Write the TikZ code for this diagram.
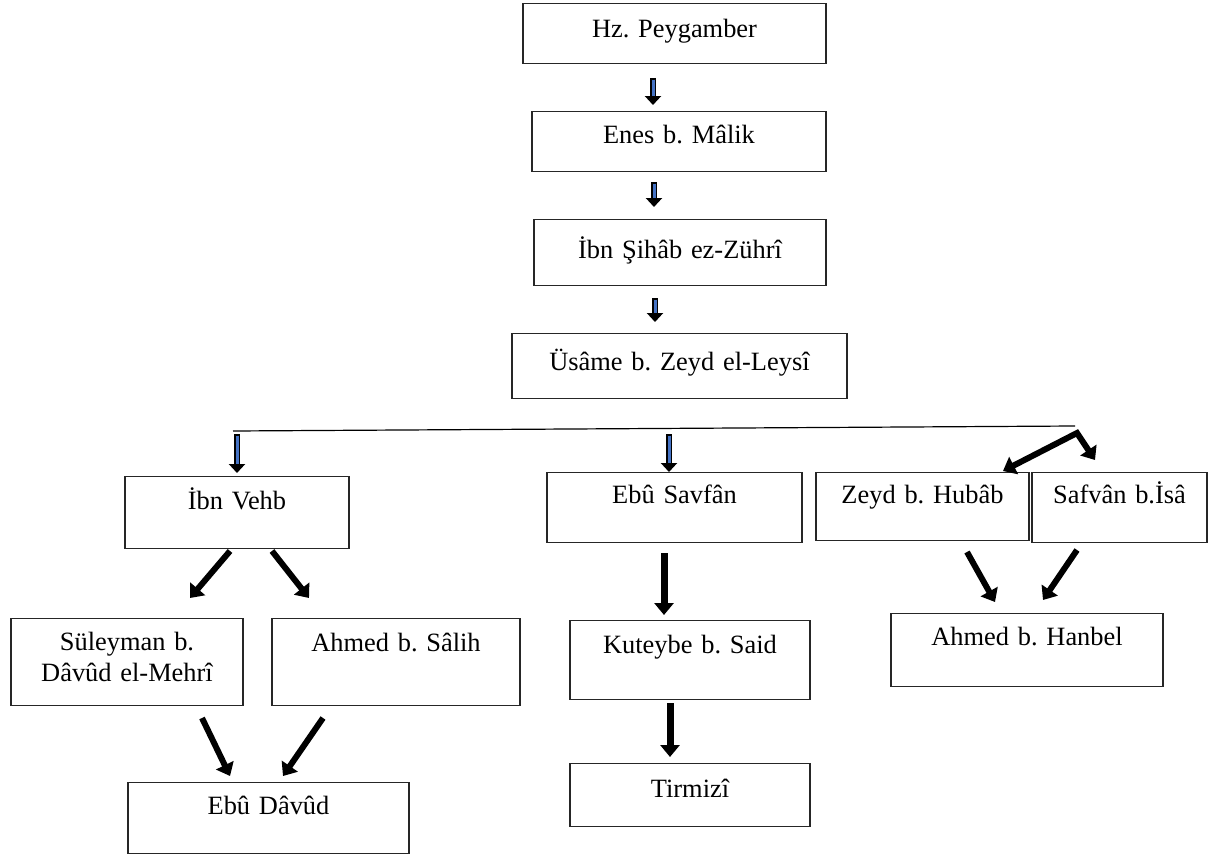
\documentclass[tikz,border=0pt]{standalone}
\usepackage{fontspec}
\setmainfont{Liberation Serif}
\usetikzlibrary{arrows.meta}
\definecolor{arrowblue}{RGB}{68,114,196}
\begin{document}
\frenchspacing
\begin{tikzpicture}[x=1pt,y=-1pt,
  box/.style={draw=black!85, line width=1.3pt, inner sep=0pt, align=center, anchor=north,
    font=\fontsize{26.4}{31}\selectfont\frenchspacing},
  boldarrow/.style={line width=6pt, -{Triangle[width=19pt,length=12pt]}, line join=miter},
  bluearrowout/.style={line width=6.5pt, -{Triangle[width=16pt,length=9pt]}},
  bluearrowin/.style={line width=3pt, draw=arrowblue, shorten <=1.7pt, shorten >=9pt},
]
\useasboundingbox (0,0) rectangle (1210,859);

% boxes
\node[box, text width=303pt, text height=34pt, text depth=26pt] (pey) at (674.5,3) {Hz. Peygamber};
\node[box, text width=294pt, text height=32pt, text depth=28pt] (enes) at (679,111) {Enes b. Mâlik};
\node[box, text width=292pt, text height=39pt, text depth=27pt] (sihab) at (680,219) {İbn Şihâb ez-Zührî};
\node[box, text width=335pt, text height=37pt, text depth=28pt] (usame) at (679.5,333) {Üsâme b. Zeyd el-Leysî};
\node[box, text width=224pt, text height=33pt, text depth=39pt] (vehb) at (237,476) {İbn Vehb};
\node[box, text width=255pt, text height=31pt, text depth=39pt] (savfan) at (674.5,472) {Ebû Savfân};
\node[box, text width=213pt, text height=31pt, text depth=37pt] (zeyd) at (922.5,472) {Zeyd b. Hubâb};
\node[box, text width=175pt, text height=31pt, text depth=39pt] (safvan) at (1119.5,472) {Safvân b.İsâ};
\node[box, text width=232pt, text height=32pt, text depth=55pt] (suley) at (127,618) {Süleyman b.\\Dâvûd el-Mehrî};
\node[box, text width=248pt, text height=33pt, text depth=54pt] (salih) at (396,618) {Ahmed b. Sâlih};
\node[box, text width=240pt, text height=33pt, text depth=46pt] (kuteybe) at (690,620) {Kuteybe b. Said};
\node[box, text width=240pt, text height=34pt, text depth=29pt] (tirmizi) at (690,763) {Tirmizî};
\node[box, text width=281pt, text height=32pt, text depth=39pt] (davud) at (268.5,782) {Ebû Dâvûd};
\node[box, text width=272pt, text height=32pt, text depth=41pt] (hanbel) at (1027,613) {Ahmed b. Hanbel};

% arrow end points
\coordinate (a1s) at (653,78);  \coordinate (a1e) at (653,105);
\coordinate (a2s) at (654,182); \coordinate (a2e) at (654,207);
\coordinate (a3s) at (655,298); \coordinate (a3e) at (655,322);
\coordinate (a4s) at (237,434); \coordinate (a4e) at (237,473);
\coordinate (a5s) at (669,434); \coordinate (a5e) at (669,472);
\coordinate (hl) at (233,431);  \coordinate (hr) at (1075,426);
\coordinate (bl) at (1003,471); \coordinate (apex) at (1077,433); \coordinate (br) at (1095,460);

% blue block arrows
\foreach \n in {1,...,5}{
  \draw[bluearrowout] (a\n s) -- (a\n e);
  \draw[bluearrowin] (a\n s) -- (a\n e);
}

% horizontal distribution line
\draw[line width=1.2pt] (hl) -- (hr);

% bent double arrow
\draw[line width=6pt, line join=miter,
  {Triangle[width=19pt,length=12pt]}-{Triangle[width=19pt,length=12pt]}] (bl) -- (apex) -- (br);

% bold arrows
\coordinate (v1s) at (230,551); \coordinate (v1e) at (190,598);
\coordinate (v2s) at (272,551); \coordinate (v2e) at (309,598);
\coordinate (d1s) at (202,718); \coordinate (d1e) at (230,776);
\coordinate (d2s) at (323,718); \coordinate (d2e) at (283,776);
\coordinate (k1s) at (664,553); \coordinate (k1e) at (664,615);
\coordinate (k2s) at (670,703); \coordinate (k2e) at (670,757);
\coordinate (h1s) at (967,552); \coordinate (h1e) at (995,602);
\coordinate (h2s) at (1077,550); \coordinate (h2e) at (1043,600);

\draw[boldarrow] (v1s) -- (v1e);
\draw[boldarrow] (v2s) -- (v2e);
\draw[boldarrow] (d1s) -- (d1e);
\draw[boldarrow] (d2s) -- (d2e);
\draw[boldarrow, line width=7pt] (k1s) -- (k1e);
\draw[boldarrow, line width=7pt] (k2s) -- (k2e);
\draw[boldarrow] (h1s) -- (h1e);
\draw[boldarrow] (h2s) -- (h2e);
\end{tikzpicture}
\end{document}
